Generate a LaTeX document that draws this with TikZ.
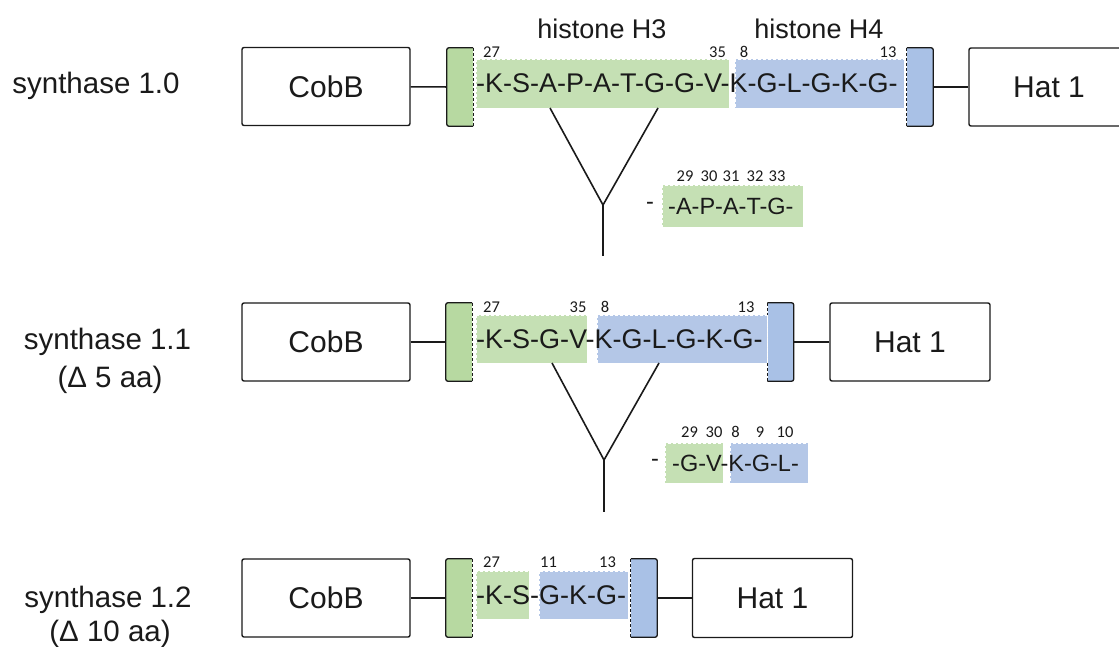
\documentclass[tikz,border=0pt]{standalone}
\usepackage{fontspec}
\setmainfont{Liberation Sans}
\newfontfamily\numfont{Carlito}
\definecolor{seqG}{HTML}{C5E0B4}
\definecolor{seqB}{HTML}{B4C7E7}
\definecolor{capG}{HTML}{B7D9A1}
\definecolor{capB}{HTML}{A9C1E6}
\definecolor{ink}{HTML}{1A1A1A}
\tikzset{
  box/.style={draw=ink, line width=1.4pt, rounded corners=2pt, fill=white, inner sep=0pt,
              minimum width=168pt, minimum height=78pt, font=\fontsize{30}{36}\selectfont, text=ink},
  hatbox/.style={box, minimum width=160pt},
  capnode/.style={inner sep=0pt, minimum width=26pt, minimum height=78pt},
  seqbox/.style={draw=white, line width=0.7pt, dash pattern=on 3pt off 2pt},
  lbl/.style={font=\fontsize{29.5}{34}\selectfont, text=ink, anchor=base, inner sep=0pt},
  num/.style={font=\numfont\fontsize{16.5}{19}\selectfont, text=ink, anchor=base, inner sep=0pt},
  sq/.style={font=\fontsize{27}{32}\selectfont, text=ink, anchor=west, inner sep=0pt},
  fr/.style={font=\fontsize{23.5}{28}\selectfont, text=ink, inner sep=0pt},
  ln/.style={draw=ink, line width=1.6pt},
  capline/.style={draw=ink, line width=1.3pt, rounded corners=2pt},
  dashline/.style={draw=ink, line width=1.3pt, dash pattern=on 3pt off 2pt},
}
\newcommand{\greencap}[1]{%
  \draw[capline] (#1.north east) -- (#1.north west) -- (#1.south west) -- (#1.south east);
  \draw[white, line width=1.3pt] (#1.north east) -- (#1.south east);
  \draw[dashline] (#1.north east) -- (#1.south east);}
\newcommand{\bluecap}[1]{%
  \draw[capline] (#1.north west) -- (#1.north east) -- (#1.south east) -- (#1.south west);
  \draw[white, line width=1.3pt] (#1.north west) -- (#1.south west);
  \draw[dashline] (#1.north west) -- (#1.south west);}
\begin{document}
\begin{tikzpicture}[x=1pt,y=-1pt]
\clip (0,0) rectangle (1119,646);
\fill[white] (0,0) rectangle (1119,646);

% ---------- Row 1 ----------
\node[lbl] (l1) at (96,93) {synthase 1.0};
\node[box] (cobb1) at (326,86.5) {CobB};
\node[capnode, fill=capG] (g1) at (460,87) {};
\node[capnode, fill=capB] (b1) at (920,87) {};
\node[hatbox] (hat1) at (1049,87) {Hat 1};
\draw[ln] (cobb1) -- (g1);
\draw[ln] (b1) -- (hat1);
\greencap{g1}
\bluecap{b1}
\fill[seqG] (476,59) rectangle (729,108);
\draw[seqbox] (476,59) rectangle (729,108);
\fill[seqB] (735,59) rectangle (904,108);
\draw[seqbox] (735,59) rectangle (904,108);
\node[sq] (s1) at (476,83.5) {-K-S-A-P-A-T-G-G-V-K-G-L-G-K-G-};
\node[lbl, font=\fontsize{27}{32}\selectfont] (h3) at (602,38) {histone H3};
\node[lbl, font=\fontsize{27}{32}\selectfont] (h4) at (819,38) {histone H4};
\node[num] (n1a) at (491.5,57) {27};
\node[num] (n1b) at (717.5,57) {35};
\node[num] (n1c) at (744,57) {8};
\node[num] (n1d) at (888,57) {13};
% deletion 1
\coordinate (a1) at (550,108);
\coordinate (c1) at (658,108);
\coordinate (j1) at (603,205);
\coordinate (e1) at (603,256);
\draw[ln] (a1) -- (j1) -- (c1);
\draw[ln] (j1) -- (e1);
\node[fr] (d1) at (650,206) {-};
\fill[seqG] (662,185) rectangle (803,227);
\draw[seqbox] (662,185) rectangle (803,227);
\node[fr, anchor=west] (f1) at (668,206) {-A-P-A-T-G-};
\node[num] (m1a) at (685,181) {29};
\node[num] (m1b) at (709,181) {30};
\node[num] (m1c) at (731,181) {31};
\node[num] (m1d) at (755,181) {32};
\node[num] (m1e) at (777,181) {33};

% ---------- Row 2 ----------
\node[lbl] (l2) at (107.5,349) {synthase 1.1};
\node[lbl] (l2b) at (110,387) {(Δ 5 aa)};
\node[box] (cobb2) at (326,342) {CobB};
\node[capnode, fill=capG] (g2) at (459,342) {};
\node[capnode, fill=capB] (b2) at (780.5,342) {};
\node[hatbox] (hat2) at (910,342) {Hat 1};
\draw[ln] (cobb2) -- (g2);
\draw[ln] (b2) -- (hat2);
\greencap{g2}
\bluecap{b2}
\fill[seqG] (476,315) rectangle (587,363);
\draw[seqbox] (476,315) rectangle (587,363);
\fill[seqB] (597,315) rectangle (767,363);
\draw[seqbox] (597,315) rectangle (767,363);
\node[sq] (s2) at (476,339) {-K-S-G-V-K-G-L-G-K-G-};
\node[num] (n2a) at (491.5,312) {27};
\node[num] (n2b) at (578,312) {35};
\node[num] (n2c) at (605,312) {8};
\node[num] (n2d) at (746,312) {13};
% deletion 2
\coordinate (a2) at (552,363);
\coordinate (c2) at (659,363);
\coordinate (j2) at (604,460);
\coordinate (e2) at (604,512);
\draw[ln] (a2) -- (j2) -- (c2);
\draw[ln] (j2) -- (e2);
\node[fr] (d2) at (655,463) {-};
\fill[seqG] (665,443) rectangle (723,483);
\draw[seqbox] (665,443) rectangle (723,483);
\fill[seqB] (730,443) rectangle (808,483);
\draw[seqbox] (730,443) rectangle (808,483);
\node[fr, anchor=west] (f2) at (672,463) {-G-V-K-G-L-};
\node[num] (m2a) at (689.5,437) {29};
\node[num] (m2b) at (714,437) {30};
\node[num] (m2c) at (735.5,437) {8};
\node[num] (m2d) at (760,437) {9};
\node[num] (m2e) at (785,437) {10};

% ---------- Row 3 ----------
\node[lbl] (l3) at (108,607) {synthase 1.2};
\node[lbl] (l3b) at (110,641) {(Δ 10 aa)};
\node[box] (cobb3) at (326,598) {CobB};
\node[capnode, fill=capG] (g3) at (459,598) {};
\node[capnode, fill=capB] (b3) at (644,598) {};
\node[hatbox, minimum height=79pt] (hat3) at (772.5,598) {Hat 1};
\draw[ln] (cobb3) -- (g3);
\draw[ln] (b3) -- (hat3);
\greencap{g3}
\bluecap{b3}
\fill[seqG] (476,571) rectangle (529,619);
\draw[seqbox] (476,571) rectangle (529,619);
\fill[seqB] (539,571) rectangle (628,619);
\draw[seqbox] (539,571) rectangle (628,619);
\node[sq] (s3) at (476,595) {-K-S-G-K-G-};
\node[num] (n3a) at (491.5,567) {27};
\node[num] (n3b) at (548.5,567) {11};
\node[num] (n3c) at (607.5,567) {13};
\end{tikzpicture}
\end{document}
